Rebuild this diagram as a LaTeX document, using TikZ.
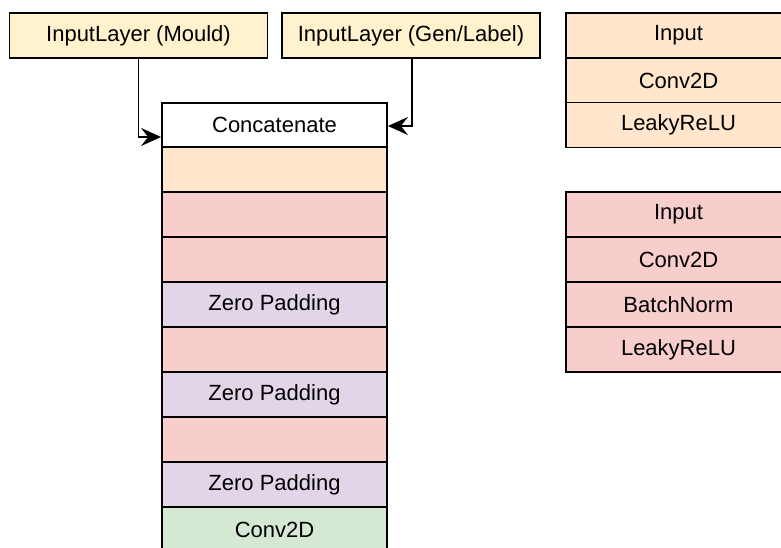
\documentclass[tikz,border=0pt]{standalone}
\usepackage{fontspec}
\setmainfont{Liberation Sans}
\usetikzlibrary{arrows.meta}
\definecolor{cyellow}{HTML}{FFF2CC}
\definecolor{corange}{HTML}{FFE6CC}
\definecolor{cpink}{HTML}{F8CECC}
\definecolor{cpurple}{HTML}{E1D5E7}
\definecolor{cgreen}{HTML}{D5E8D4}
\tikzset{
  cell/.style={draw=black, line width=1.8pt, rectangle, inner sep=0pt,
    minimum width=225pt, minimum height=45pt,
    font=\fontsize{22}{26}\selectfont},
  inbox/.style={cell, fill=cyellow, minimum width=258pt},
  conn/.style={line width=1.8pt, -{Stealth[length=20pt,width=18pt,inset=7pt]}}
}
\begin{document}
\begin{tikzpicture}[x=1pt,y=-1pt]
\useasboundingbox (0,0) rectangle (781,548);
\clip (0,0) rectangle (781,548);
% input layers
\node[inbox] (mould) at (138.5,35.5) {InputLayer (Mould)};
\node[inbox] (gen) at (411,35.5) {InputLayer (Gen/Label)};
% main stack
\node[cell, fill=white, minimum height=44pt] (concat) at (274.5,125) {Concatenate};
\node[cell, fill=corange] (m1) at (274.5,169.5) {};
\node[cell, fill=cpink] (m2) at (274.5,214.5) {};
\node[cell, fill=cpink] (m3) at (274.5,259.5) {};
\node[cell, fill=cpurple] (m4) at (274.5,304.5) {Zero Padding};
\node[cell, fill=cpink] (m5) at (274.5,349.5) {};
\node[cell, fill=cpurple] (m6) at (274.5,394.5) {Zero Padding};
\node[cell, fill=cpink] (m7) at (274.5,439.5) {};
\node[cell, fill=cpurple] (m8) at (274.5,484.5) {Zero Padding};
\node[cell, fill=cgreen] (m9) at (274.5,529.5) {Conv2D};
% legend stack 1
\node[cell, fill=corange] (a1) at (678.5,35.5) {Input};
\node[cell, fill=corange] (a2) at (678.5,80.5) {Conv2D};
\node[cell, fill=corange] (a3) at (678.5,125) {LeakyReLU};
% legend stack 2
\node[cell, fill=cpink] (b1) at (678.5,214.5) {Input};
\node[cell, fill=cpink] (b2) at (678.5,259.5) {Conv2D};
\node[cell, fill=cpink] (b3) at (678.5,304.5) {BatchNorm};
\node[cell, fill=cpink] (b4) at (678.5,349.5) {LeakyReLU};
% connectors
\draw[conn] (mould.south) |- ([yshift=-12pt]concat.west);
\draw[conn] ([xshift=1pt]gen.south) |- ([yshift=-1pt]concat.east);
\end{tikzpicture}
\end{document}
